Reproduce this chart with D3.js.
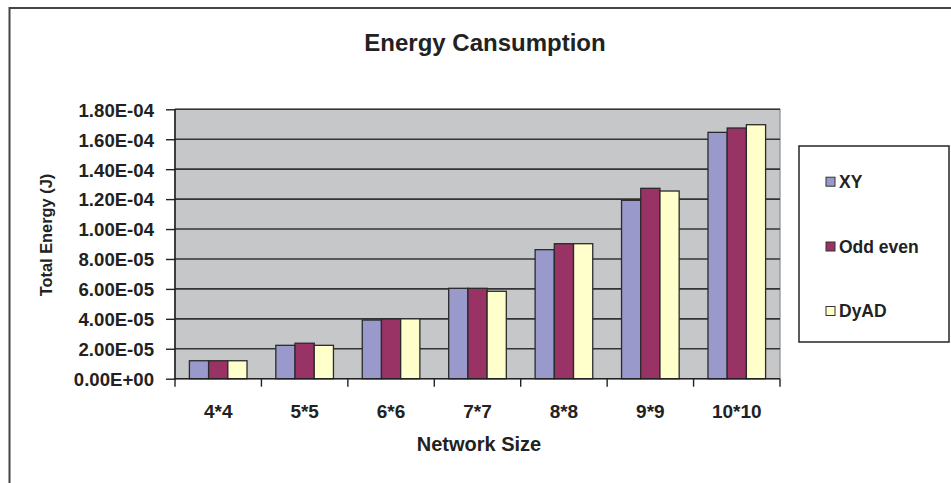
<!DOCTYPE html>
<html>
<head>
<meta charset="utf-8">
<script src="https://cdn.jsdelivr.net/npm/d3@7"></script>
<style>
html,body{margin:0;padding:0;background:#fff;}
svg{display:block;font-family:"Liberation Sans",Arial,sans-serif;font-weight:bold;}
</style>
</head>
<body>
<svg id="chart" width="951" height="483"></svg>
<script>
const categories = ["4*4","5*5","6*6","7*7","8*8","9*9","10*10"];
const seriesNames = ["XY","Odd even","DyAD"];
const xyValues      = [1.20e-5, 2.23e-5, 3.92e-5, 6.04e-5, 8.62e-5, 1.192e-4, 1.646e-4];
const oddEvenValues = [1.20e-5, 2.37e-5, 3.99e-5, 6.04e-5, 9.02e-5, 1.272e-4, 1.675e-4];
const dyadValues    = [1.20e-5, 2.23e-5, 4.00e-5, 5.84e-5, 9.02e-5, 1.254e-4, 1.697e-4];
const seriesColors = ["#9999CC","#993366","#FFFFCC"];
const yTickValues = [0,2e-5,4e-5,6e-5,8e-5,1e-4,1.2e-4,1.4e-4,1.6e-4,1.8e-4];
const yTickLabels = ["0.00E+00","2.00E-05","4.00E-05","6.00E-05","8.00E-05","1.00E-04","1.20E-04","1.40E-04","1.60E-04","1.80E-04"];

(function(){
const allSeries = [xyValues, oddEvenValues, dyadValues];
const svg = d3.select("#chart");

// outer chart border (top & left visible)
svg.append("path").attr("d","M9.5,483 V8 H951").attr("fill","none").attr("stroke","#444").attr("stroke-width",2);

const pLeft=175, pRight=780, pTop=109.3, pBottom=378.7;
const x0 = d3.scaleBand().domain(categories).range([pLeft,pRight]).paddingInner(0).paddingOuter(0);
const x1 = d3.scaleBand().domain(seriesNames).range([0,x0.bandwidth()]).paddingInner(0).paddingOuter(0.75);
const y = d3.scaleLinear().domain([0,1.8e-4]).range([pBottom,pTop]);

// plot area background
svg.append("rect").attr("x",pLeft).attr("y",pTop).attr("width",pRight-pLeft).attr("height",pBottom-pTop)
  .attr("fill","#C6C7C9").attr("stroke","#8c8c8c").attr("stroke-width",1.2);

// gridlines
svg.append("g").selectAll("line").data(yTickValues.slice(1)).join("line")
  .attr("x1",pLeft).attr("x2",pRight).attr("y1",d=>y(d)).attr("y2",d=>y(d))
  .attr("stroke","#333").attr("stroke-width",1.6);

// bars
const groups = svg.append("g").selectAll("g").data(categories).join("g")
  .attr("transform",c=>`translate(${x0(c)},0)`);
groups.selectAll("rect").data((c,i)=>seriesNames.map((s,j)=>({s,j,v:allSeries[j][i]}))).join("rect")
  .attr("x",d=>x1(d.s)).attr("width",x1.bandwidth())
  .attr("y",d=>y(d.v)).attr("height",d=>pBottom-y(d.v))
  .attr("fill",d=>seriesColors[d.j]).attr("stroke","#2a2a2a").attr("stroke-width",1.3);

// y axis
const yAxis = d3.axisLeft(y).tickValues(yTickValues).tickSize(9)
  .tickFormat((d,i)=>yTickLabels[i]);
const yg = svg.append("g").attr("transform",`translate(${pLeft},0)`).call(yAxis);
yg.select(".domain").attr("stroke","#222").attr("stroke-width",1.6).attr("d",`M0,${pBottom+1}V${pTop}`);
yg.selectAll(".tick line").attr("stroke","#222").attr("stroke-width",1.4);
yg.selectAll(".tick text").attr("x",-21).attr("dy","0.37em").attr("fill","#222")
  .style("font-size","18.6px").style("font-family","'Liberation Sans',Arial,sans-serif").style("font-weight","bold");

// x axis
const boundaries = categories.map(c=>x0(c)).concat([pRight]);
svg.append("line").attr("x1",pLeft).attr("x2",pRight).attr("y1",pBottom).attr("y2",pBottom)
  .attr("stroke","#222").attr("stroke-width",1.6);
svg.append("g").selectAll("line").data(boundaries).join("line")
  .attr("x1",d=>d).attr("x2",d=>d).attr("y1",pBottom).attr("y2",pBottom+8)
  .attr("stroke","#222").attr("stroke-width",1.4);
svg.append("g").selectAll("text").data(categories).join("text")
  .attr("x",c=>x0(c)+x0.bandwidth()/2).attr("y",418.3).attr("text-anchor","middle")
  .attr("fill","#222").style("font-size","19px").text(c=>c);

// titles
svg.append("text").attr("x",485).attr("y",51).attr("text-anchor","middle")
  .attr("fill","#222").style("font-size","24px").text("Energy Cansumption");
svg.append("text").attr("x",479).attr("y",451).attr("text-anchor","middle")
  .attr("fill","#222").style("font-size","20px").text("Network Size");
svg.append("text").attr("transform","translate(52,235) rotate(-90)").attr("text-anchor","middle")
  .attr("fill","#222").style("font-size","16.4px").text("Total Energy (J)");

// legend
svg.append("rect").attr("x",799).attr("y",146).attr("width",150).attr("height",196)
  .attr("fill","#fff").attr("stroke","#333").attr("stroke-width",1.6);
const legendY = [181.7,246.5,311];
const lg = svg.append("g").selectAll("g").data(seriesNames).join("g")
  .attr("transform",(d,i)=>`translate(826,${legendY[i]})`);
lg.append("rect").attr("x",0).attr("y",-4.5).attr("width",9).attr("height",9)
  .attr("fill",(d,i)=>seriesColors[i]).attr("stroke","#333").attr("stroke-width",1);
lg.append("text").attr("x",13).attr("y",6.3).attr("fill","#222").style("font-size","17.5px").text(d=>d);
})();
</script>
</body>
</html>
